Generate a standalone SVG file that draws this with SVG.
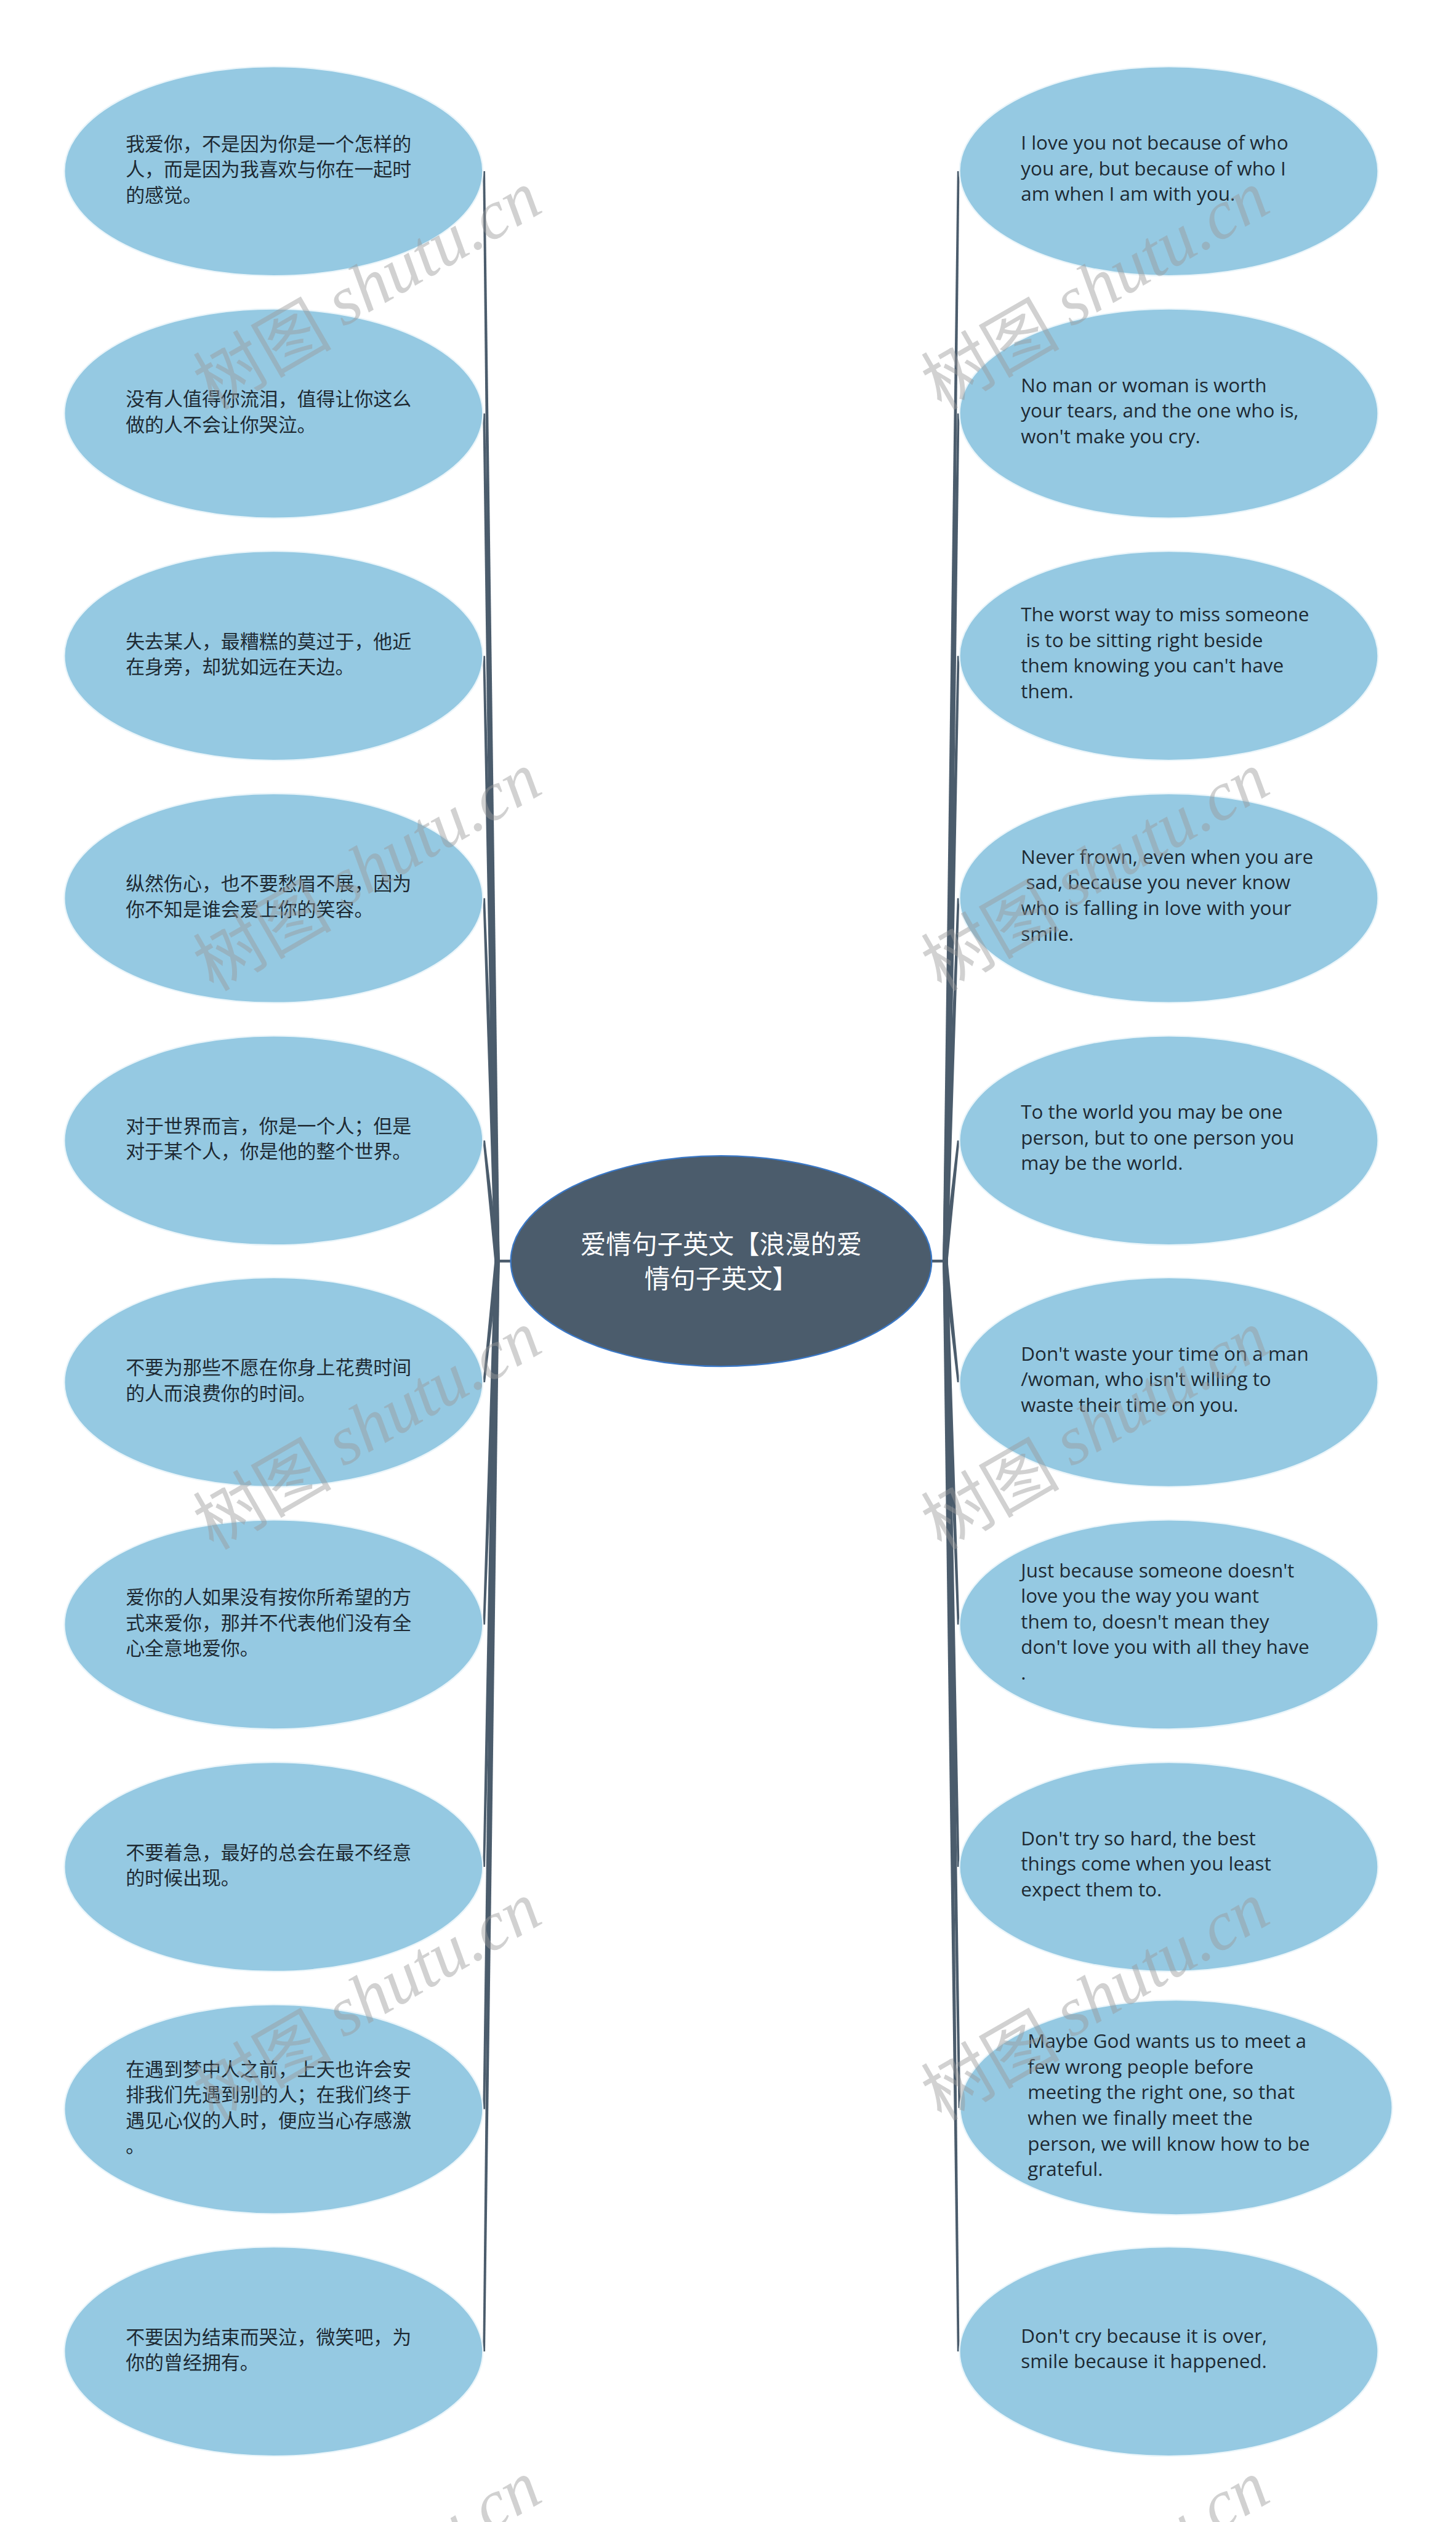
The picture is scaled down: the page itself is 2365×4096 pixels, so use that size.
<svg xmlns="http://www.w3.org/2000/svg" width="2365" height="4096" viewBox="0 0 2365 4096">
<style>
.node{fill:#95C9E2;stroke:#EAF5FA;stroke-width:2.5}
.root{fill:#4B5C6C;stroke:#3B78C6;stroke-width:2.5}
.cn{font-family:"Noto Sans CJK SC","Noto Sans",sans-serif;font-size:33.5px;fill:#1E2A33}
.en{font-family:"Open Sans","Noto Sans",sans-serif;font-size:34px;fill:#1E2A33}
.rt{font-family:"Noto Sans CJK SC","Noto Sans",sans-serif;font-size:45px;fill:#FFFFFF;text-anchor:middle}
.con{fill:#4B5C6C}
.wm{font-size:122px;fill:#9A9A9A;fill-opacity:0.45}
.wc{font-family:"Noto Sans CJK SC",sans-serif}
.we{font-family:"Liberation Serif",serif;font-style:italic}
</style>
<rect x="0" y="0" width="2365" height="4096" fill="#FFFFFF"/>
<g transform="scale(0.923828)">
<g id="connectors">
<polygon class="con" points="849,301 853,301 878.5,2217 869.5,2217"/>
<polygon class="con" points="849,727 853,727 878.5,2217 869.5,2217"/>
<polygon class="con" points="849,1153 853,1153 878.5,2217 869.5,2217"/>
<polygon class="con" points="849,1579 853,1579 878.5,2217 869.5,2217"/>
<polygon class="con" points="849,2005 853,2005 878.5,2217 869.5,2217"/>
<polygon class="con" points="849,2430 853,2430 878.5,2217 869.5,2217"/>
<polygon class="con" points="849,2856 853,2856 878.5,2217 869.5,2217"/>
<polygon class="con" points="849,3282 853,3282 878.5,2217 869.5,2217"/>
<polygon class="con" points="849,3708 853,3708 878.5,2217 869.5,2217"/>
<polygon class="con" points="849,4134 853,4134 878.5,2217 869.5,2217"/>
<rect class="con" x="874" y="2214.5" width="26" height="5"/>
<polygon class="con" points="1683,301 1687,301 1666.5,2217 1657.5,2217"/>
<polygon class="con" points="1683,727 1687,727 1666.5,2217 1657.5,2217"/>
<polygon class="con" points="1683,1153 1687,1153 1666.5,2217 1657.5,2217"/>
<polygon class="con" points="1683,1579 1687,1579 1666.5,2217 1657.5,2217"/>
<polygon class="con" points="1683,2005 1687,2005 1666.5,2217 1657.5,2217"/>
<polygon class="con" points="1683,2430 1687,2430 1666.5,2217 1657.5,2217"/>
<polygon class="con" points="1683,2856 1687,2856 1666.5,2217 1657.5,2217"/>
<polygon class="con" points="1683,3282 1687,3282 1666.5,2217 1657.5,2217"/>
<polygon class="con" points="1685,3706 1689,3706 1666.5,2217 1657.5,2217"/>
<polygon class="con" points="1683,4134 1687,4134 1666.5,2217 1657.5,2217"/>
<rect class="con" x="1636" y="2214.5" width="26" height="5"/>
</g>
<g id="root">
<ellipse class="root" cx="1268" cy="2217" rx="370" ry="185"/>
<text class="rt" x="1268" y="2204">爱情句子英文【浪漫的爱<tspan x="1268" dy="60">情句子英文】</tspan></text>
</g>
<g id="l1"><ellipse class="node" cx="481" cy="301" rx="368" ry="184"/><text class="cn" x="221" y="265">我爱你，不是因为你是一个怎样的<tspan x="221" dy="45">人，而是因为我喜欢与你在一起时</tspan><tspan x="221" dy="45">的感觉。</tspan></text></g>
<g id="l2"><ellipse class="node" cx="481" cy="727" rx="368" ry="184"/><text class="cn" x="221" y="713.5">没有人值得你流泪，值得让你这么<tspan x="221" dy="45">做的人不会让你哭泣。</tspan></text></g>
<g id="l3"><ellipse class="node" cx="481" cy="1153" rx="368" ry="184"/><text class="cn" x="221" y="1139.5">失去某人，最糟糕的莫过于，他近<tspan x="221" dy="45">在身旁，却犹如远在天边。</tspan></text></g>
<g id="l4"><ellipse class="node" cx="481" cy="1579" rx="368" ry="184"/><text class="cn" x="221" y="1565.5">纵然伤心，也不要愁眉不展，因为<tspan x="221" dy="45">你不知是谁会爱上你的笑容。</tspan></text></g>
<g id="l5"><ellipse class="node" cx="481" cy="2005" rx="368" ry="184"/><text class="cn" x="221" y="1991.5">对于世界而言，你是一个人；但是<tspan x="221" dy="45">对于某个人，你是他的整个世界。</tspan></text></g>
<g id="l6"><ellipse class="node" cx="481" cy="2430" rx="368" ry="184"/><text class="cn" x="221" y="2416.5">不要为那些不愿在你身上花费时间<tspan x="221" dy="45">的人而浪费你的时间。</tspan></text></g>
<g id="l7"><ellipse class="node" cx="481" cy="2856" rx="368" ry="184"/><text class="cn" x="221" y="2820">爱你的人如果没有按你所希望的方<tspan x="221" dy="45">式来爱你，那并不代表他们没有全</tspan><tspan x="221" dy="45">心全意地爱你。</tspan></text></g>
<g id="l8"><ellipse class="node" cx="481" cy="3282" rx="368" ry="184"/><text class="cn" x="221" y="3268.5">不要着急，最好的总会在最不经意<tspan x="221" dy="45">的时候出现。</tspan></text></g>
<g id="l9"><ellipse class="node" cx="481" cy="3708" rx="368" ry="184"/><text class="cn" x="221" y="3649.5">在遇到梦中人之前，上天也许会安<tspan x="221" dy="45">排我们先遇到别的人；在我们终于</tspan><tspan x="221" dy="45">遇见心仪的人时，便应当心存感激</tspan><tspan x="221" dy="45">。</tspan></text></g>
<g id="l10"><ellipse class="node" cx="481" cy="4134" rx="368" ry="184"/><text class="cn" x="221" y="4120.5">不要因为结束而哭泣，微笑吧，为<tspan x="221" dy="45">你的曾经拥有。</tspan></text></g>
<g id="r1"><ellipse class="node" cx="2055" cy="301" rx="368" ry="184"/><text class="en" x="1795" y="263">I love you not because of who<tspan x="1795" dy="45">you are, but because of who I</tspan><tspan x="1795" dy="45">am when I am with you.</tspan></text></g>
<g id="r2"><ellipse class="node" cx="2055" cy="727" rx="368" ry="184"/><text class="en" x="1795" y="689">No man or woman is worth<tspan x="1795" dy="45">your tears, and the one who is,</tspan><tspan x="1795" dy="45">won't make you cry.</tspan></text></g>
<g id="r3"><ellipse class="node" cx="2055" cy="1153" rx="368" ry="184"/><text class="en" x="1795" y="1092.5" xml:space="preserve">The worst way to miss someone<tspan x="1795" dy="45"> is to be sitting right beside</tspan><tspan x="1795" dy="45">them knowing you can't have</tspan><tspan x="1795" dy="45">them.</tspan></text></g>
<g id="r4"><ellipse class="node" cx="2055" cy="1579" rx="368" ry="184"/><text class="en" x="1795" y="1518.5" xml:space="preserve">Never frown, even when you are<tspan x="1795" dy="45"> sad, because you never know</tspan><tspan x="1795" dy="45">who is falling in love with your</tspan><tspan x="1795" dy="45">smile.</tspan></text></g>
<g id="r5"><ellipse class="node" cx="2055" cy="2005" rx="368" ry="184"/><text class="en" x="1795" y="1967">To the world you may be one<tspan x="1795" dy="45">person, but to one person you</tspan><tspan x="1795" dy="45">may be the world.</tspan></text></g>
<g id="r6"><ellipse class="node" cx="2055" cy="2430" rx="368" ry="184"/><text class="en" x="1795" y="2392">Don't waste your time on a man<tspan x="1795" dy="45">/woman, who isn't willing to</tspan><tspan x="1795" dy="45">waste their time on you.</tspan></text></g>
<g id="r7"><ellipse class="node" cx="2055" cy="2856" rx="368" ry="184"/><text class="en" x="1795" y="2773">Just because someone doesn't<tspan x="1795" dy="45">love you the way you want</tspan><tspan x="1795" dy="45">them to, doesn't mean they</tspan><tspan x="1795" dy="45">don't love you with all they have</tspan><tspan x="1795" dy="45">.</tspan></text></g>
<g id="r8"><ellipse class="node" cx="2055" cy="3282" rx="368" ry="184"/><text class="en" x="1795" y="3244">Don't try so hard, the best<tspan x="1795" dy="45">things come when you least</tspan><tspan x="1795" dy="45">expect them to.</tspan></text></g>
<g id="r9"><ellipse class="node" cx="2068" cy="3705" rx="380" ry="189"/><text class="en" x="1807" y="3600.5">Maybe God wants us to meet a<tspan x="1807" dy="45">few wrong people before</tspan><tspan x="1807" dy="45">meeting the right one, so that</tspan><tspan x="1807" dy="45">when we finally meet the</tspan><tspan x="1807" dy="45">person, we will know how to be</tspan><tspan x="1807" dy="45">grateful.</tspan></text></g>
<g id="r10"><ellipse class="node" cx="2055" cy="4134" rx="368" ry="184"/><text class="en" x="1795" y="4118.5">Don't cry because it is over,<tspan x="1795" dy="45">smile because it happened.</tspan></text></g>
<g id="watermarks" class="wm">
<text transform="translate(643,505) rotate(-30)" text-anchor="middle" dominant-baseline="central"><tspan class="wc">树图 </tspan><tspan class="we">shutu.cn</tspan></text>
<text transform="translate(643,1527) rotate(-30)" text-anchor="middle" dominant-baseline="central"><tspan class="wc">树图 </tspan><tspan class="we">shutu.cn</tspan></text>
<text transform="translate(643,2509) rotate(-30)" text-anchor="middle" dominant-baseline="central"><tspan class="wc">树图 </tspan><tspan class="we">shutu.cn</tspan></text>
<text transform="translate(643,3513) rotate(-30)" text-anchor="middle" dominant-baseline="central"><tspan class="wc">树图 </tspan><tspan class="we">shutu.cn</tspan></text>
<text transform="translate(643,4530) rotate(-30)" text-anchor="middle" dominant-baseline="central"><tspan class="wc">树图 </tspan><tspan class="we">shutu.cn</tspan></text>
<text transform="translate(1923,505) rotate(-30)" text-anchor="middle" dominant-baseline="central"><tspan class="wc">树图 </tspan><tspan class="we">shutu.cn</tspan></text>
<text transform="translate(1923,1527) rotate(-30)" text-anchor="middle" dominant-baseline="central"><tspan class="wc">树图 </tspan><tspan class="we">shutu.cn</tspan></text>
<text transform="translate(1923,2509) rotate(-30)" text-anchor="middle" dominant-baseline="central"><tspan class="wc">树图 </tspan><tspan class="we">shutu.cn</tspan></text>
<text transform="translate(1923,3513) rotate(-30)" text-anchor="middle" dominant-baseline="central"><tspan class="wc">树图 </tspan><tspan class="we">shutu.cn</tspan></text>
<text transform="translate(1923,4530) rotate(-30)" text-anchor="middle" dominant-baseline="central"><tspan class="wc">树图 </tspan><tspan class="we">shutu.cn</tspan></text>
</g>
</g>
</svg>
